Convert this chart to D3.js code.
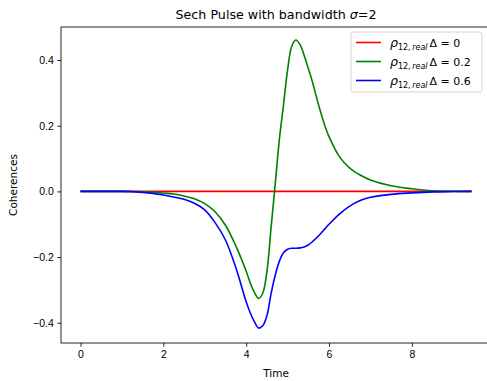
<!DOCTYPE html>
<html lang="en">
<head>
<meta charset="UTF-8">
<title>Sech Pulse</title>
<script src="https://cdn.jsdelivr.net/npm/d3@7"></script>
<style>
    body { margin: 0; background: #fff; }
    svg { font-family: "DejaVu Sans", sans-serif; }
    .tick text { font-size: 10.5px; fill: #000; }
</style>
</head>
<body>
<script>
// time samples (shared by all curves)
var time = [0, 0.5, 1, 1.5, 1.75, 2, 2.25, 2.5, 2.75, 3, 3.25, 3.5, 3.75, 4, 4.1, 4.2, 4.3, 4.4, 4.5, 4.6, 4.7,
            4.8, 4.9, 5.0, 5.1, 5.2, 5.3, 5.4, 5.5, 5.6, 5.75, 5.9, 6, 6.25, 6.5, 6.75, 7, 7.5, 8, 8.5, 9, 9.44];

// delta = 0
var rhoD0 = [0, 0, 0, 0, 0, 0, 0, 0, 0, 0, 0, 0, 0, 0, 0, 0, 0, 0, 0, 0, 0,
             0, 0, 0, 0, 0, 0, 0, 0, 0, 0, 0, 0, 0, 0, 0, 0, 0, 0, 0, 0, 0];
// delta = 0.2
var rhoD02 = [0, 0, 0, -0.001, -0.002, -0.005, -0.008, -0.014, -0.022, -0.037, -0.062, -0.103, -0.166, -0.243, -0.279, -0.308, -0.326, -0.31, -0.245, -0.112, 0.02,
              0.157, 0.262, 0.37, 0.442, 0.461, 0.447, 0.414, 0.374, 0.333, 0.262, 0.2, 0.167, 0.106, 0.071, 0.05, 0.035, 0.017, 0.008, 0.002, 0.0005, 0];
// delta = 0.6
var rhoD06 = [0, 0, 0, -0.003, -0.006, -0.011, -0.017, -0.024, -0.036, -0.056, -0.095, -0.148, -0.232, -0.336, -0.37, -0.397, -0.416, -0.409, -0.379, -0.312, -0.256,
              -0.213, -0.187, -0.176, -0.173, -0.173, -0.172, -0.169, -0.163, -0.153, -0.135, -0.114, -0.1, -0.069, -0.045, -0.028, -0.018, -0.009, -0.0046, -0.0015, -0.0005, 0];

var xTicks = [0, 2, 4, 6, 8];
var yTicks = [-0.4, -0.2, 0, 0.2, 0.4];
var deltas = ["0", "0.2", "0.6"];
var colors = ["#ff0000", "#008000", "#0000ff"];

var W = 487, H = 381;
var mL = 61, mR = 491, mT = 27, mB = 343;

var svg = d3.select("body").append("svg")
    .attr("width", W).attr("height", H);

var x = d3.scaleLinear().domain([-0.47, 9.91]).range([mL, mR]);
var y = d3.scaleLinear().domain([-0.4615, 0.5005]).range([mB, mT]);

var fmt = function(d){ return d3.format(".1f")(d).replace("-", "\u2212"); };

// axes
var gx = svg.append("g").attr("transform", "translate(0," + mB + ")")
    .call(d3.axisBottom(x).tickValues(xTicks).tickSize(3.7).tickPadding(3.5).tickFormat(d3.format("d")));
var gy = svg.append("g").attr("transform", "translate(" + mL + ",0)")
    .call(d3.axisLeft(y).tickValues(yTicks).tickSize(3.7).tickPadding(3.5).tickFormat(fmt));
[gx, gy].forEach(function(g){
    g.select(".domain").remove();
    g.selectAll(".tick line").attr("stroke", "#000").attr("stroke-width", 0.85);
});

// curves
var line = d3.line()
    .x(function(d){ return x(d[0]); })
    .y(function(d){ return y(d[1]); })
    .curve(d3.curveCatmullRom.alpha(0.5));

var series = [rhoD0, rhoD02, rhoD06];
series.forEach(function(vals, i){
    svg.append("path")
        .datum(time.map(function(t, j){ return [t, vals[j]]; }))
        .attr("fill", "none")
        .attr("stroke", colors[i])
        .attr("stroke-width", 1.6)
        .attr("d", line);
});

// frame
svg.append("rect")
    .attr("x", mL).attr("y", mT)
    .attr("width", mR - mL).attr("height", mB - mT)
    .attr("fill", "none").attr("stroke", "#000").attr("stroke-width", 0.85);

// title + axis labels
var title = svg.append("text")
    .attr("x", (mL + mR) / 2).attr("y", 19)
    .attr("text-anchor", "middle").attr("font-size", "12.7px");
title.append("tspan").text("Sech Pulse with bandwidth ");
title.append("tspan").attr("font-style", "italic").text("\u03c3");
title.append("tspan").text("=2");

svg.append("text")
    .attr("x", (mL + mR) / 2).attr("y", 377)
    .attr("text-anchor", "middle").attr("font-size", "10.5px")
    .text("Time");

svg.append("text")
    .attr("transform", "translate(17," + ((mT + mB) / 2) + ") rotate(-90)")
    .attr("text-anchor", "middle").attr("font-size", "10.5px")
    .text("Coherences");

// legend
var lg = svg.append("g").attr("transform", "translate(351,32)");
lg.append("rect")
    .attr("width", 131).attr("height", 60)
    .attr("rx", 2.5)
    .attr("fill", "#fff").attr("fill-opacity", 0.8)
    .attr("stroke", "#ccc").attr("stroke-width", 0.85);

deltas.forEach(function(dl, i){
    var ry = 10.5 + i * 19;
    lg.append("line")
        .attr("x1", 5).attr("x2", 30).attr("y1", ry).attr("y2", ry)
        .attr("stroke", colors[i]).attr("stroke-width", 1.6);
    var t = lg.append("text")
        .attr("x", 39).attr("y", ry + 4)
        .attr("font-size", "10.5px");
    t.append("tspan").attr("font-style", "italic").attr("font-size", "12.5px").text("\u03c1");
    t.append("tspan").attr("dy", 3).attr("font-size", "8px").text("12,");
    t.append("tspan").attr("dx", 1.5).attr("font-size", "8px").attr("font-style", "italic").text("real");
    t.append("tspan").attr("dy", -3).attr("dx", 2).attr("font-size", "11px").text("\u0394 = " + dl);
});
</script>
</body>
</html>
